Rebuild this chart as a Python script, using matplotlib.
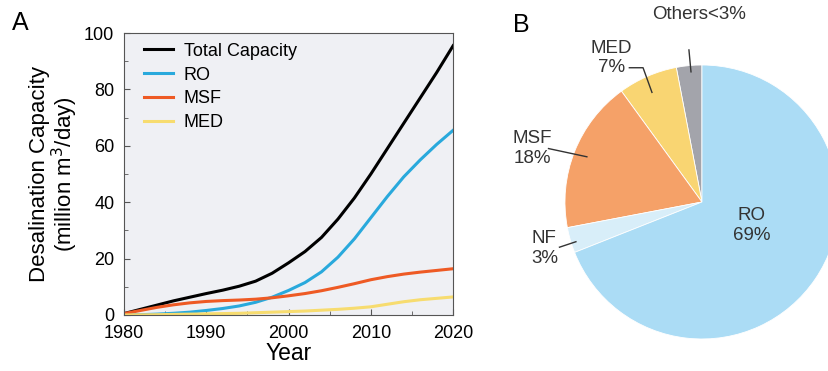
import numpy as np
import matplotlib
matplotlib.use("Agg")
import matplotlib.pyplot as plt

plt.rcParams['font.family'] = ['Liberation Sans', 'DejaVu Sans']

# Panel A data (million m3/day)
years = [1980, 1982, 1984, 1986, 1988, 1990, 1992, 1994, 1996, 1998, 2000,
         2002, 2004, 2006, 2008, 2010, 2012, 2014, 2016, 2018, 2020]
total = [0.5, 2.0, 3.5, 5.0, 6.3, 7.6, 8.8, 10.2, 12.0, 14.8, 18.5,
         22.5, 27.5, 34.0, 41.5, 50.0, 59.0, 68.0, 77.0, 86.0, 95.5]
ro = [0.0, 0.1, 0.3, 0.6, 1.0, 1.6, 2.3, 3.2, 4.5, 6.3, 8.7,
      11.5, 15.3, 20.5, 27.0, 34.5, 42.0, 49.0, 55.0, 60.5, 65.5]
msf = [0.5, 1.6, 2.7, 3.6, 4.3, 4.8, 5.1, 5.3, 5.6, 6.1, 6.8,
       7.6, 8.6, 9.8, 11.1, 12.5, 13.6, 14.5, 15.2, 15.8, 16.4]
med = [0.0, 0.05, 0.1, 0.2, 0.3, 0.4, 0.5, 0.6, 0.8, 1.0, 1.2,
       1.4, 1.7, 2.0, 2.4, 2.9, 3.8, 4.7, 5.4, 5.9, 6.4]

# Panel B data (share of capacity, %)
pie_labels = ['Others<3%', 'MED\n7%', 'MSF\n18%', 'NF\n3%', 'RO\n69%']
pie_shares = [3, 7, 18, 3, 69]
pie_colors = ['#a3a4ab', '#f9d572', '#f5a168', '#d8eef9', '#abdcf5']

fig = plt.figure(figsize=(8.29, 3.71), dpi=100)

# ---- panel A ----
ax = fig.add_axes([0.1496, 0.151, 0.397, 0.760])
ax.set_facecolor('#eff0f4')
ax.plot(years, total, color='black', lw=2.2, label='Total Capacity')
ax.plot(years, ro, color='#29a9dc', lw=2.2, label='RO')
ax.plot(years, msf, color='#ee5a24', lw=2.2, label='MSF')
ax.plot(years, med, color='#f7dc6f', lw=2.2, label='MED')
ax.set_xlim(1980, 2020)
ax.set_ylim(0, 100)
ax.set_xticks([1980, 1990, 2000, 2010, 2020])
ax.set_yticks([0, 20, 40, 60, 80, 100])
ax.set_xticks(np.arange(1985, 2020, 10), minor=True)
ax.set_yticks(np.arange(10, 100, 20), minor=True)
ax.tick_params(direction='in', labelsize=13, length=4, color='#555555', pad=7)
ax.tick_params(which='minor', direction='in', length=3, color='#555555')
for s in ax.spines.values():
    s.set_color('#555555')
ax.set_xlabel('Year', fontsize=16.5, labelpad=0)
ax.set_ylabel('Desalination Capacity\n(million m$^3$/day)', fontsize=16, labelpad=3,
              linespacing=1.0)
leg = ax.legend(loc='upper left', bbox_to_anchor=(0.045, 0.985), fontsize=13,
                frameon=False, handlelength=1.6, handletextpad=0.6,
                labelspacing=0.38, borderaxespad=0, borderpad=0.3)
fig.text(0.014, 0.92, 'A', fontsize=18)

# ---- panel B ----
axp = fig.add_axes([0.6815, 0.0863, 0.3305, 0.7385])
axp.pie(pie_shares, colors=pie_colors, startangle=90, counterclock=True,
        wedgeprops=dict(edgecolor='white', linewidth=0.6), radius=1)
axp.set_xlim(-1, 1)
axp.set_ylim(-1, 1)
axp.set_aspect('equal')
axp.axis('off')
for t in axp.patches:
    t.set_clip_on(False)

fs = 13.5
tc = '#333333'
axp.text(0.365, -0.17, pie_labels[4], ha='center', va='center', fontsize=fs, color=tc)
axp.text(-1.15, -0.34, pie_labels[3], ha='center', va='center', fontsize=fs, color=tc)
axp.plot([-1.04, -0.92], [-0.33, -0.29], color=tc, lw=1, clip_on=False)
axp.text(-1.24, 0.39, pie_labels[2], ha='center', va='center', fontsize=fs, color=tc)
axp.plot([-1.12, -0.84], [0.39, 0.33], color=tc, lw=1, clip_on=False)
axp.text(-0.66, 1.05, pie_labels[1], ha='center', va='center', fontsize=fs, color=tc)
axp.plot([-0.53, -0.43, -0.365], [0.98, 0.98, 0.80], color=tc, lw=1, clip_on=False)
axp.text(-0.02, 1.37, pie_labels[0], ha='center', va='center', fontsize=fs, color=tc)
axp.plot([-0.095, -0.08], [1.11, 0.95], color=tc, lw=1, clip_on=False)
fig.text(0.619, 0.915, 'B', fontsize=18)

fig.savefig('out.png', dpi=100)
